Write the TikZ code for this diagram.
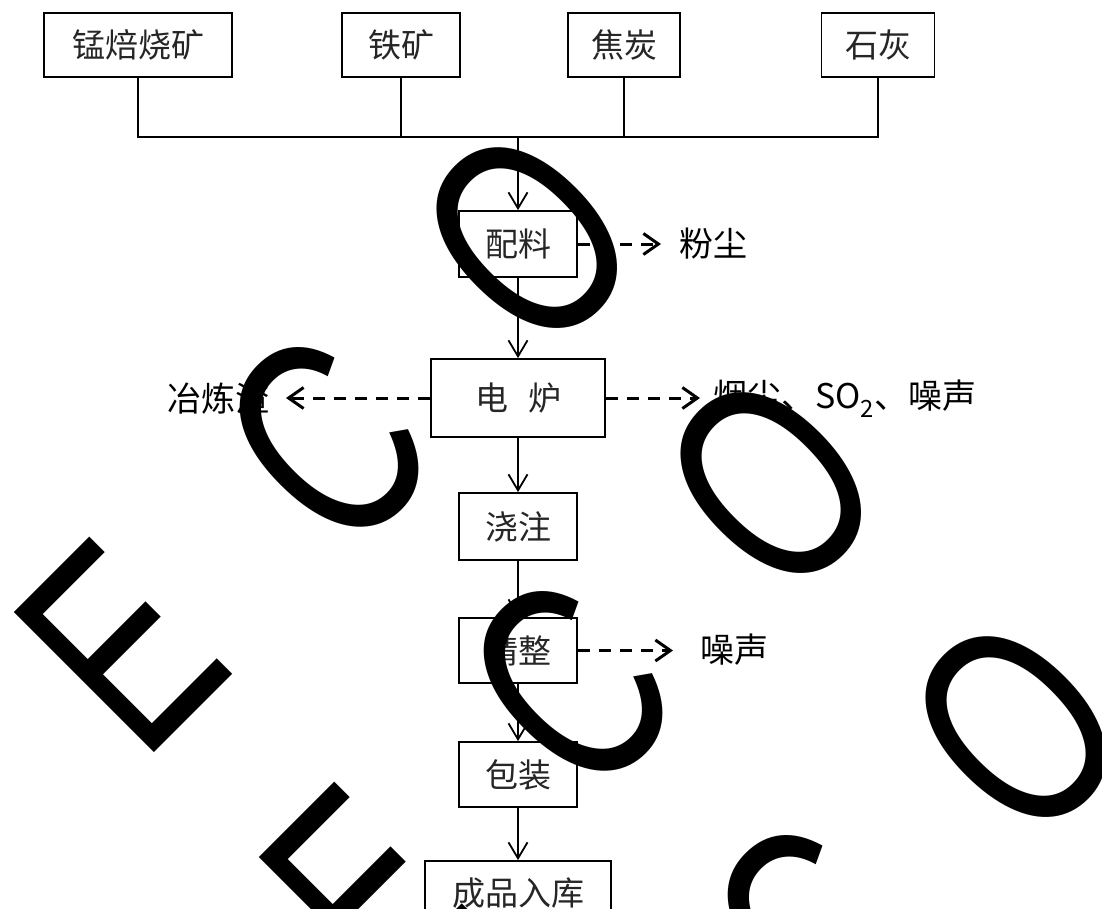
\documentclass[tikz,border=0pt]{standalone}
\usepackage{fontspec}
\setmainfont{Liberation Sans}
\newfontfamily\cjk{Noto Sans CJK SC}
\newfontfamily\wmfont{Liberation Sans}
\usetikzlibrary{arrows.meta}
\tikzset{
  box/.style={draw, line width=1.8pt, inner sep=0pt, text=black!85,
    font=\cjk\fontsize{33}{33}\selectfont},
  lab/.style={inner sep=0pt, font=\cjk\fontsize{34}{34}\selectfont},
  wire/.style={line width=1.8pt},
  flow/.style={line width=1.8pt, -{Straight Barb[length=16pt,width=19pt]}},
  emit/.style={line width=3pt, dash pattern=on 12pt off 9pt,
    -{Straight Barb[length=15pt,width=21pt]}},
  wm/.style={inner sep=0pt, transform shape, text=black,
    font=\wmfont\fontsize{288}{288}\selectfont}
}
\begin{document}
\begin{tikzpicture}[x=1pt, y=-1pt]
\useasboundingbox (0,0) rectangle (1102,908);
\clip (0,0) rectangle (1102,908);
\fill[white] (0,0) rectangle (1102,908);

% raw materials
\node[box, minimum width=188pt, minimum height=64pt] (b1) at (138,45) {锰焙烧矿};
\node[box, minimum width=118pt, minimum height=64pt] (b2) at (401,45) {铁矿};
\node[box, minimum width=112pt, minimum height=64pt] (b3) at (624,45) {焦炭};
\node[box, minimum width=113pt, minimum height=64pt] (b4) at (878,45) {石灰};
\coordinate (bus) at (518,137);

% process steps
\node[box, minimum width=118pt, minimum height=66pt] (mix) at (518,244) {配料};
\node[box, minimum width=174pt, minimum height=78pt] (fur) at (518,398) {电\hspace{20pt}炉};
\node[box, minimum width=118pt, minimum height=67pt] (pour) at (518,526.5) {浇注};
\node[box, minimum width=118pt, minimum height=65pt] (fin) at (518,650.5) {精整};
\node[box, minimum width=118pt, minimum height=65pt] (pack) at (518,774.5) {包装};
\node[box, minimum width=186pt, minimum height=64pt] (store) at (518,893) {成品入库};

% outputs
\node[lab, anchor=west] (dust) at (679,244) {粉尘};
\node[lab, anchor=east] (slag) at (270,399) {冶炼渣};
\node[lab, anchor=west] (fume) at (713,399) {烟尘、SO\textsubscript{2}、噪声};
\node[lab, anchor=west] (noise) at (700,650) {噪声};

% connectors
\draw[wire] (b1.south) -- (b1.south |- bus) -- (b4.south |- bus) -- (b4.south);
\draw[wire] (b2.south) -- (b2.south |- bus);
\draw[wire] (b3.south) -- (b3.south |- bus);
\draw[flow] (bus) -- (mix.north);
\draw[flow] (mix.south) -- (fur.north);
\draw[flow] (fur.south) -- (pour.north);
\draw[flow] (pour.south) -- (fin.north);
\draw[flow] (fin.south) -- (pack.north);
\draw[flow] (pack.south) -- (store.north);

\draw[emit, shorten >=18pt] (mix.east) -- (mix.east -| dust.west);
\draw[emit, shorten >=16pt] (fur.west) -- (fur.west -| slag.east);
\draw[emit, shorten >=13pt] (fur.east) -- (fur.east -| fume.west);
\draw[emit, shorten >=27pt] (fin.east) -- (fin.east -| noise.west);

% watermark letters
\foreach \px/\py/\ch/\nm in {121/646/E/e1, 366/891/E/e2, 327/441/C/c1, 571/685/C/c2,
    815/929/C/c3, 528/238/O/o1, 772/483/O/o2, 1017/727/O/o3} {
  \begin{scope}[shift={(\px,\py)}, rotate=45, xscale=0.71]
    \node[wm] (\nm) at (0,0) {\ch};
  \end{scope}
}
\end{tikzpicture}
\end{document}
